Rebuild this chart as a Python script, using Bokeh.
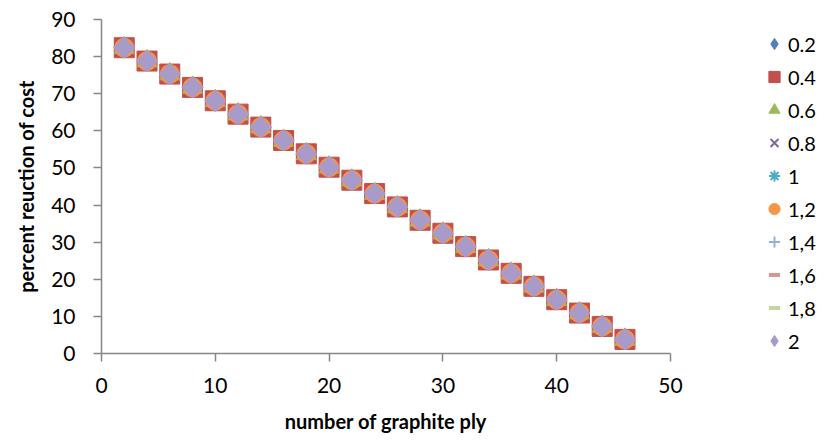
import math
from bokeh.plotting import figure
from bokeh.models import Legend, LegendItem, Range1d, FixedTicker
from bokeh.embed import file_html
from bokeh.resources import INLINE

plies = [2, 4, 6, 8, 10, 12, 14, 16, 18, 20, 22, 24, 26, 28, 30, 32, 34, 36, 38, 40, 42, 44, 46]
reduction = [82.4, 78.8, 75.3, 71.7, 68.1, 64.5, 61.0, 57.4, 53.8, 50.2, 46.7, 43.1,
             39.5, 35.9, 32.4, 28.8, 25.2, 21.6, 18.1, 14.5, 10.9, 7.3, 3.8]
series_names = ["0.2", "0.4", "0.6", "0.8", "1", "1,2", "1,4", "1,6", "1,8", "2"]
x_ticks = [0, 10, 20, 30, 40, 50]
y_ticks = [0, 10, 20, 30, 40, 50, 60, 70, 80, 90]

Q = math.pi / 4
styles = [
    dict(marker="diamond", color="#4F81BD", size=16, angle=0, lw=1),
    dict(marker="square", color="#C0504D", size=20, angle=0, lw=1),
    dict(marker="triangle", color="#9BBB59", size=20, angle=0, lw=1),
    dict(marker="x", color="#8064A2", size=18, angle=0, lw=2),
    dict(marker="asterisk", color="#4BACC6", size=18, angle=0, lw=2),
    dict(marker="circle", color="#F79646", size=19, angle=0, lw=1),
    dict(marker="cross", color="#95B3D7", size=18, angle=0, lw=2),
    dict(marker="dash", color="#D99694", size=10, angle=0, lw=4),
    dict(marker="dash", color="#C3D69B", size=18, angle=0, lw=4),
    dict(marker="square", color="#A99BC9", size=15, angle=Q, lw=1),
]

FONT = "Lato"

p = figure(frame_width=569, frame_height=334, output_backend="svg", toolbar_location=None,
           min_border_left=101, min_border_right=160, min_border_top=19, min_border_bottom=91,
           x_range=Range1d(0, 50), y_range=Range1d(0, 90))
p.outline_line_color = None
p.xgrid.visible = False
p.ygrid.visible = False

# legend glyph for the last series (a diamond), drawn first so it sits under the other markers
last = styles[-1]
r_last_leg = p.scatter(plies, reduction, marker="diamond", size=14,
                       fill_color=last["color"], line_color=last["color"])

items = []
for i, (name, st) in enumerate(zip(series_names, styles)):
    r = p.scatter(plies, reduction, marker=st["marker"], size=st["size"], angle=st["angle"],
                  fill_color=st["color"], line_color=st["color"], line_width=st["lw"])
    if i == len(series_names) - 1:
        items.append(LegendItem(label=name, renderers=[r_last_leg]))
    else:
        items.append(LegendItem(label=name, renderers=[r]))

legend = Legend(items=items, location=(90, -4), padding=0, margin=0,
                border_line_alpha=0, background_fill_alpha=0,
                glyph_width=28, glyph_height=33, label_height=20, spacing=0,
                label_standoff=0, label_text_font=FONT, label_text_font_size="20px",
                label_text_color="#000000")
p.add_layout(legend, "right")

for ax in (p.xaxis[0], p.yaxis[0]):
    ax.axis_line_color = "#868686"
    ax.axis_line_width = 1.5
    ax.major_tick_line_color = "#868686"
    ax.major_tick_line_width = 1.5
    ax.major_tick_out = 8
    ax.major_tick_in = 0
    ax.minor_tick_line_color = None
    ax.major_label_text_font = FONT
    ax.major_label_text_font_size = "21px"
    ax.major_label_text_color = "#000000"
    ax.axis_label_text_font = FONT
    ax.axis_label_text_font_size = "20px"
    ax.axis_label_text_font_style = "bold"
    ax.axis_label_text_color = "#000000"

p.xaxis[0].ticker = FixedTicker(ticks=x_ticks)
p.yaxis[0].ticker = FixedTicker(ticks=y_ticks)
p.xaxis[0].axis_label = "number of graphite ply"
p.yaxis[0].axis_label = "percent reuction of cost"
p.xaxis[0].major_label_standoff = 16
p.xaxis[0].axis_label_standoff = 13
p.yaxis[0].major_label_standoff = 18
p.yaxis[0].axis_label_standoff = 10

open("out.html", "w").write(file_html(p, INLINE))
